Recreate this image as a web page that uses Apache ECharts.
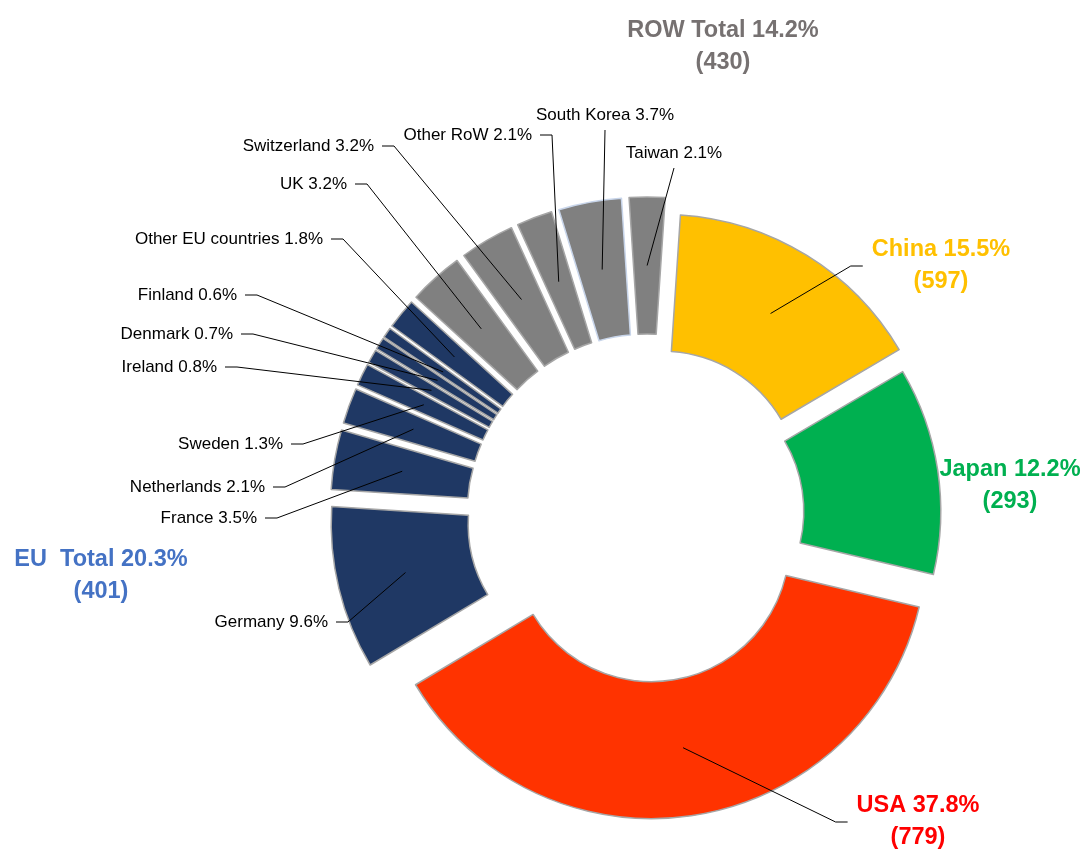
<!DOCTYPE html>
<html>
<head>
<meta charset="utf-8">
<script src="https://cdn.jsdelivr.net/npm/echarts@6/dist/echarts.min.js"></script>
<style>
  html, body { margin: 0; padding: 0; background: #fff; }
  #chart { width: 1083px; height: 850px; }
</style>
</head>
<body>
<div id="chart"></div>
<script>
// slices, clockwise from the top
const countries = ['China', 'Japan', 'USA', 'Germany', 'France', 'Netherlands', 'Sweden', 'Ireland',
  'Denmark', 'Finland', 'Other EU countries', 'UK', 'Switzerland', 'Other RoW', 'South Korea', 'Taiwan'];
const shares = [15.5, 12.2, 37.8, 9.6, 3.5, 2.1, 1.3, 0.8, 0.7, 0.6, 1.8, 3.2, 3.2, 2.1, 3.7, 2.1];
const groups = ['China', 'Japan', 'USA', 'EU', 'EU', 'EU', 'EU', 'EU', 'EU', 'EU', 'EU',
  'RoW', 'RoW', 'RoW', 'RoW', 'RoW'];
const counts = [597, 293, 779, null, null, null, null, null, null, null, null, null, null, null, null, null];
const euTotal = [20.3, 401];
const rowTotal = [14.2, 430];

// styles / layout
const FONT = "'Liberation Sans', Arial, sans-serif";
const sliceColor = { China: '#FFC000', Japan: '#00B050', USA: '#FF3300', EU: '#1F3864', RoW: '#808080' };
const textColor = { China: '#FFC000', Japan: '#00B050', USA: '#FF0000' };
const explode = { China: 29, Japan: 19, USA: 30, EU: 42, RoW: 42 };
const CX = 647, CY = 514, R0 = 138, R1 = 275, RM = (R0 + R1) / 2;
const START = 3.8; // degrees clockwise from 12 o'clock

// label spot: x, y, align, where the leader line leaves the text
const spots = {
  'China': [941, 266, 'center', 'left'],
  'Japan': [1010, 486, 'center', 'none'],
  'USA': [918, 822, 'center', 'left'],
  'Germany': [328, 622, 'right', 'right'],
  'France': [257, 518, 'right', 'right'],
  'Netherlands': [265, 487, 'right', 'right'],
  'Sweden': [283, 444, 'right', 'right'],
  'Ireland': [217, 367, 'right', 'right'],
  'Denmark': [233, 334, 'right', 'right'],
  'Finland': [237, 295, 'right', 'right'],
  'Other EU countries': [323, 239, 'right', 'right'],
  'UK': [347, 184, 'right', 'right'],
  'Switzerland': [374, 146, 'right', 'right'],
  'Other RoW': [532, 135, 'right', 'right'],
  'South Korea': [605, 115, 'center', 'bottom'],
  'Taiwan': [674, 153, 'center', 'bottom']
};

let myChart = echarts.init(document.getElementById('chart'));

const total = shares.reduce((a, b) => a + b, 0);
const hidden = { color: 'rgba(0,0,0,0)', borderWidth: 0 };

// one pie per slice, so each slice gets its own explode offset;
// labelled = true builds the transparent copy that carries label + leader line on top
function slicePie(i, labelled) {
  const before = shares.slice(0, i).reduce((a, b) => a + b, 0);
  const mid = (START + (before + shares[i] / 2) / total * 360) * Math.PI / 180;
  const name = countries[i];
  const g = groups[i];
  const cx = CX + explode[g] * Math.sin(mid);
  const cy = CY - explode[g] * Math.cos(mid);
  const big = counts[i] != null;
  const text = big
    ? name + ' ' + shares[i].toFixed(1) + '%\n(' + counts[i] + ')'
    : name + ' ' + shares[i].toFixed(1) + '%';
  const spot = spots[name];
  return {
    type: 'pie',
    silent: true,
    animation: false,
    clockwise: true,
    z: labelled ? 3 : 2,
    startAngle: 90 - START,
    center: [cx, cy],
    radius: [R0, R1],
    avoidLabelOverlap: false,
    data: shares.map((v, j) => {
      if (j !== i) {
        return {
          value: v, name: countries[j], itemStyle: hidden,
          label: { show: false }, labelLine: { show: false }
        };
      }
      return {
        value: v, name: name,
        itemStyle: labelled ? hidden : {
          color: sliceColor[g],
          borderColor: name === 'South Korea' ? '#c8d5ea' : '#a6a6a6',
          borderWidth: 1.5
        },
        label: {
          show: labelled,
          position: 'outside',
          formatter: text,
          color: big ? textColor[g] : '#000',
          fontFamily: FONT,
          fontSize: big ? 23.5 : 17,
          fontWeight: big ? 'bold' : 'normal',
          lineHeight: big ? 32 : 20
        },
        labelLine: {
          show: labelled && spot[3] !== 'none',
          showAbove: true,
          length: 0, length2: 0,
          lineStyle: { color: '#000', width: 1 }
        }
      };
    }),
    labelLayout: function (params) {
      if (!labelled || params.dataIndex !== i) return;
      const [x, y, align, side] = spot;
      const out = { x: x, y: y, align: align, verticalAlign: 'middle' };
      if (side === 'none') return out;
      // move the line start from the outer edge to the middle of the ring
      const p0 = params.labelLinePoints ? params.labelLinePoints[0]
        : [cx + R1 * Math.sin(mid), cy - R1 * Math.cos(mid)];
      const k = RM / R1;
      const anchor = [cx + (p0[0] - cx) * k, cy + (p0[1] - cy) * k];
      const w = params.labelRect.width;
      let edge, stub;
      if (side === 'right') {
        const ex = align === 'center' ? x + w / 2 : x;
        edge = [ex + 8, y]; stub = [ex + 20, y];
      } else if (side === 'left') {
        const ex = align === 'center' ? x - w / 2 : x;
        edge = [ex - 9, y]; stub = [ex - 21, y];
      } else {
        edge = [x, y + 15]; stub = [x, y + 15];
      }
      out.labelLinePoints = [anchor, stub, edge];
      return out;
    }
  };
}

const series = countries.map((n, i) => slicePie(i, false))
  .concat(countries.map((n, i) => slicePie(i, true)));

myChart.setOption({
  backgroundColor: '#fff',
  animation: false,
  graphic: [
    {
      type: 'text',
      style: {
        text: 'ROW Total ' + rowTotal[0].toFixed(1) + '%\n(' + rowTotal[1] + ')',
        x: 723, y: 47, align: 'center', verticalAlign: 'middle',
        fill: '#767171', fontFamily: FONT, fontSize: 23.5, fontWeight: 'bold', lineHeight: 32
      }
    },
    {
      type: 'text',
      style: {
        text: 'EU  Total ' + euTotal[0].toFixed(1) + '%\n(' + euTotal[1] + ')',
        x: 101, y: 576, align: 'center', verticalAlign: 'middle',
        fill: '#4472C4', fontFamily: FONT, fontSize: 23.5, fontWeight: 'bold', lineHeight: 32
      }
    }
  ],
  series: series
});
window.onresize = myChart.resize;
</script>
</body>
</html>
